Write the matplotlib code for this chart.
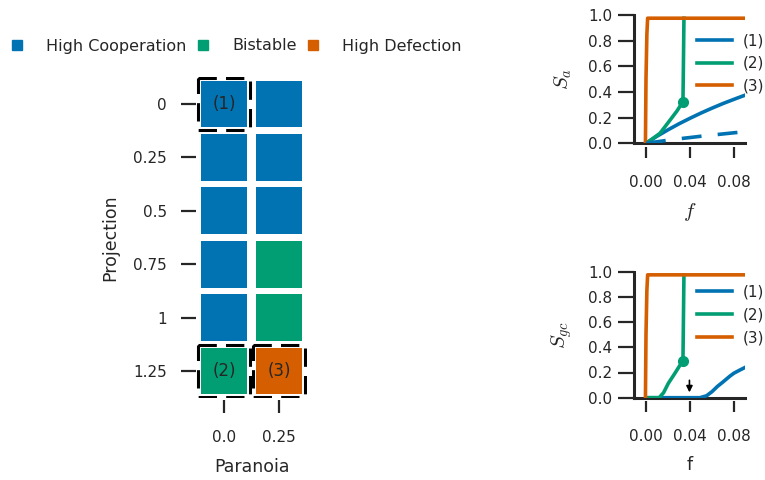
import matplotlib
matplotlib.use("Agg")
import matplotlib.pyplot as plt
from matplotlib.patches import Rectangle
from matplotlib.lines import Line2D

# colours / style
c_coop = '#0173b2'
c_bist = '#029e73'
c_def = '#d55e00'
dark = '#262626'
plt.rcParams['text.color'] = dark
plt.rcParams['axes.labelcolor'] = dark
plt.rcParams['xtick.color'] = dark
plt.rcParams['ytick.color'] = dark
plt.rcParams['axes.edgecolor'] = dark
plt.rcParams['mathtext.fontset'] = 'cm'

# ---- data ----
paranoia = ['0.0', '0.25']
projection = ['0', '0.25', '0.5', '0.75', '1', '1.25']
# 0 = high cooperation, 1 = bistable, 2 = high defection ; rows = projection
regime_p0 = [0, 0, 0, 0, 0, 1]
regime_p25 = [0, 0, 0, 1, 1, 2]
regime_names = ['High Cooperation', 'Bistable', 'High Defection']
regime_colors = [c_coop, c_bist, c_def]
# marked cells (paranoia index, projection index, label)
marked = [(0, 0, '(1)'), (0, 5, '(2)'), (1, 5, '(3)')]

# S_a vs f
f_1a = [0, 0.01, 0.02, 0.03, 0.04, 0.05, 0.06, 0.07, 0.08, 0.09]
sa_1 = [0, 0.055, 0.105, 0.152, 0.195, 0.236, 0.274, 0.31, 0.343, 0.375]
sa_1d = [0, 0.012, 0.024, 0.035, 0.045, 0.055, 0.064, 0.073, 0.082, 0.09]
f_2a = [0, 0.005, 0.0127, 0.0218, 0.028, 0.0336, 0.034, 0.0345]
sa_2 = [0, 0.03, 0.078, 0.18, 0.25, 0.324, 0.6, 0.975]
f_3a = [-0.0005, 0.0, 0.0008, 0.0015, 0.09]
sa_3 = [0, 0.5, 0.85, 0.975, 0.975]
dot_a = (0.0336, 0.324)

# S_gc vs f
f_1g = [0, 0.049, 0.055, 0.06, 0.065, 0.07, 0.0764, 0.08, 0.085, 0.09]
sg_1 = [0, 0, 0.015, 0.048, 0.09, 0.125, 0.172, 0.195, 0.218, 0.24]
f_2g = [0, 0.012, 0.016, 0.0203, 0.026, 0.0336, 0.034, 0.0345]
sg_2 = [0, 0, 0.04, 0.114, 0.19, 0.295, 0.6, 0.975]
f_3g = [-0.0005, 0.0, 0.0008, 0.0015, 0.09]
sg_3 = [0, 0.5, 0.85, 0.975, 0.975]
dot_g = (0.0336, 0.295)
arrow_f = 0.0395

fig = plt.figure(figsize=(7.65, 4.8), dpi=100)

######## heatmap of regimes ########
ax = fig.add_axes([196.5/765, 1-397.7/480, 110/765, 320.4/480])
for j, col in enumerate([regime_p0, regime_p25]):
    for i, r in enumerate(col):
        ax.add_patch(Rectangle((j-0.42, i-0.44), 0.84, 0.88, color=regime_colors[r], lw=0))
for j, i, lab in marked:
    ax.add_patch(Rectangle((j-0.48, i-0.49), 0.96, 0.98, fill=False, ec='k',
                           lw=2.2, ls=(0, (6, 3)), zorder=1))
    ax.text(j, i, lab, ha='center', va='center', fontsize=12, color=dark)
ax.set_xlim(-0.5, 1.5)
ax.set_ylim(5.5, -0.5)
ax.set_xticks(range(len(paranoia)))
ax.set_xticklabels(paranoia)
ax.set_yticks(range(len(projection)))
ax.set_yticklabels(projection)
for s in ax.spines.values():
    s.set_visible(False)
ax.spines['bottom'].set_position(('outward', 2))
ax.tick_params(axis='y', length=10.5, width=1.6, pad=11, labelsize=11)
ax.tick_params(axis='x', length=9.5, width=1.6, pad=12, labelsize=11)
ax.set_xlabel('Paranoia', fontsize=12.5, labelpad=9)
ax.set_ylabel('Projection', fontsize=12.5, labelpad=10)

handles = [Line2D([], [], ls='none', marker='s', ms=7.5, mfc=c, mec=c) for c in regime_colors]
fig.legend(handles, regime_names, loc='center left', bbox_to_anchor=(5/765, 1-46/480),
           ncol=3, frameon=False, fontsize=11.5, borderpad=0, borderaxespad=0,
           handlelength=1.5, handletextpad=1.06, columnspacing=0.3)


######## S curves ########
def style(a):
    a.set_xlim(-0.0109, 0.09)
    a.set_ylim(0, 1.0)
    a.spines['top'].set_visible(False)
    a.spines['right'].set_visible(False)
    a.spines['left'].set_linewidth(2.2)
    a.spines['bottom'].set_visible(False)
    a.spines['bottom'].set_position(('outward', 2.5))
    a.axhline(0, color=dark, lw=2.2, zorder=1.5, clip_on=False)
    a.set_xticks([0.0, 0.04, 0.08])
    a.set_xticklabels(['0.00', '0.04', '0.08'])
    a.set_yticks([0, 0.2, 0.4, 0.6, 0.8, 1.0])
    a.tick_params(axis='y', length=11.5, width=1.6, pad=4, labelsize=11)
    a.tick_params(axis='x', length=8, width=1.6, pad=12, labelsize=11)


ax1 = fig.add_axes([634/765, 1-143.3/480, 111/765, 128.3/480])
style(ax1)
ax1.plot(f_1a, sa_1, color=c_coop, lw=2.6, label='(1)')
ax1.plot(f_2a, sa_2, color=c_bist, lw=2.6, label='(2)')
ax1.plot(f_3a, sa_3, color=c_def, lw=2.6, label='(3)')
ax1.plot(f_1a, sa_1d, color=c_coop, lw=2.6, ls=(0, (5.5, 4.5)))
ax1.plot(*dot_a, 'o', color=c_bist, ms=7)
ax1.set_ylabel('$S_a$', fontsize=15, labelpad=10)
ax1.set_xlabel('$f$', fontsize=15, labelpad=8)
ax1.legend(loc='upper left', bbox_to_anchor=(0.568, 0.858), frameon=False, fontsize=11,
           borderpad=0, borderaxespad=0, handlelength=2.3, handletextpad=0.7)

ax2 = fig.add_axes([634/765, 1-397.7/480, 111/765, 126/480])
style(ax2)
ax2.plot(f_1g, sg_1, color=c_coop, lw=2.6, label='(1)')
ax2.plot(f_2g, sg_2, color=c_bist, lw=2.6, label='(2)')
ax2.plot(f_3g, sg_3, color=c_def, lw=2.6, label='(3)')
ax2.plot(*dot_g, 'o', color=c_bist, ms=7)
ax2.annotate('', xy=(arrow_f, 0.02), xytext=(arrow_f, 0.16),
             arrowprops=dict(arrowstyle='-|>', color='k', lw=1.2, mutation_scale=9))
ax2.set_ylabel('$S_{gc}$', fontsize=15, labelpad=10)
ax2.set_xlabel('f', fontsize=12.5, labelpad=9)
ax2.legend(loc='upper left', bbox_to_anchor=(0.568, 0.896), frameon=False, fontsize=11,
           borderpad=0, borderaxespad=0, handlelength=2.3, handletextpad=0.7)

fig.savefig('out.png', dpi=100)
